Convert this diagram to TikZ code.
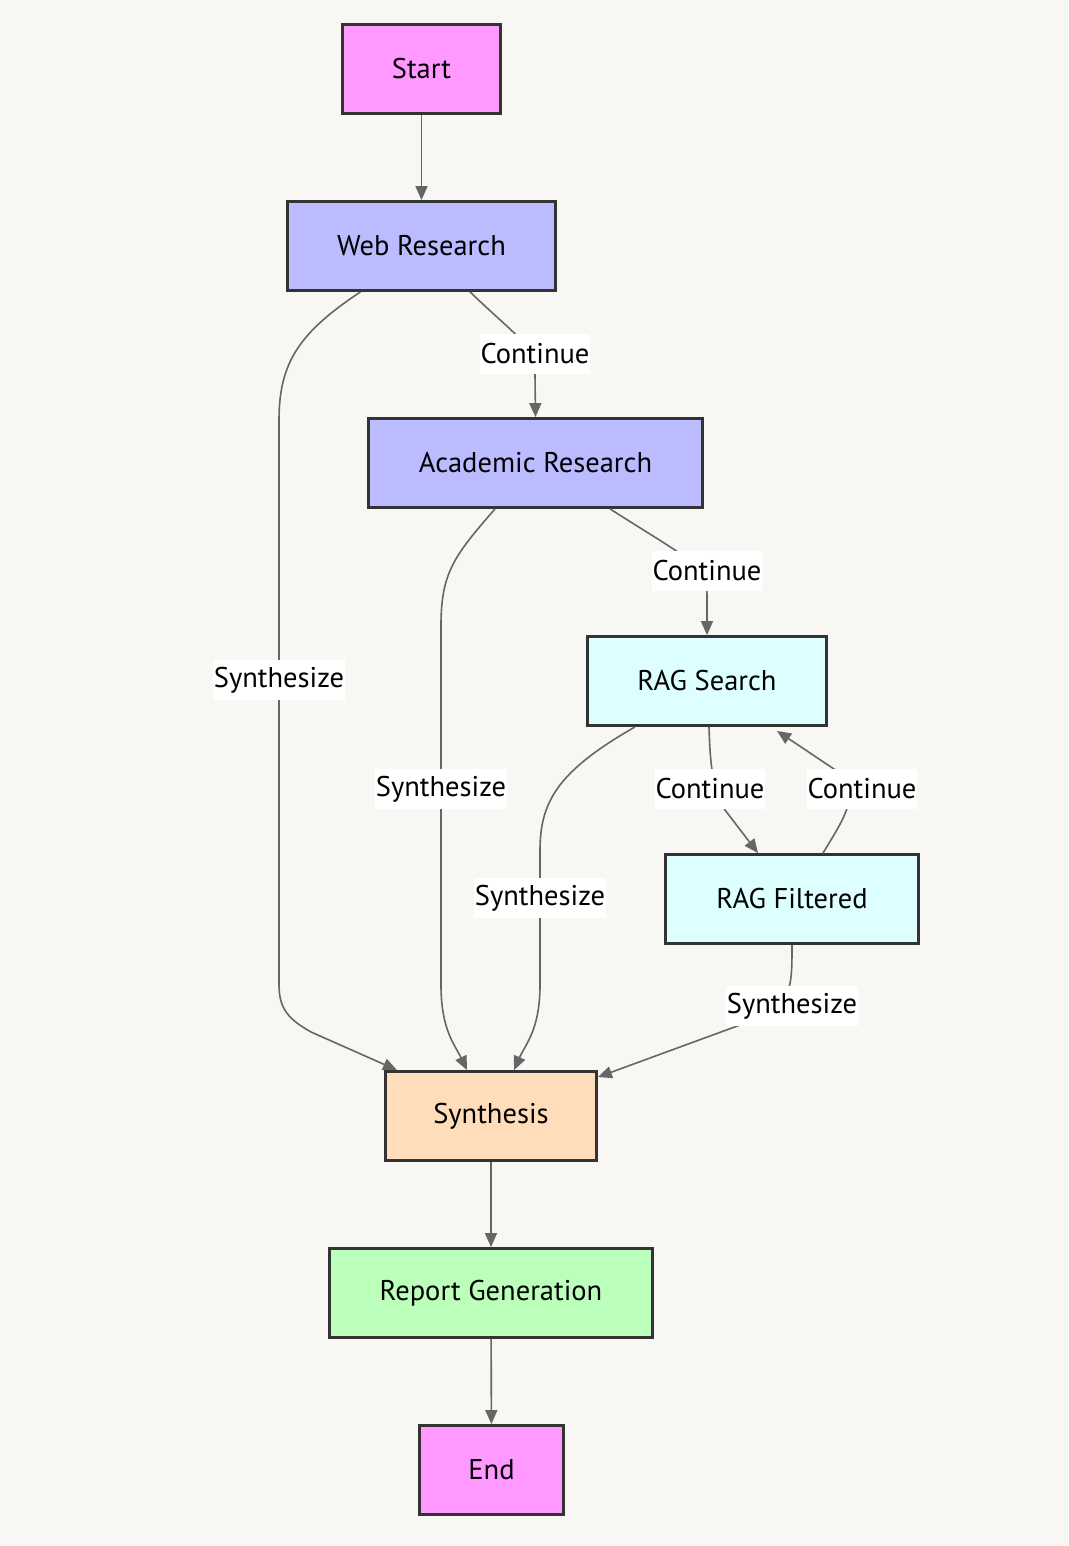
\documentclass[tikz,border=0pt]{standalone}
\usepackage{fontspec}
\setmainfont{PT Sans}
\usetikzlibrary{arrows.meta}
\definecolor{bg}{HTML}{F8F7F3}
\definecolor{boxline}{HTML}{333333}
\definecolor{edgec}{HTML}{666666}
\definecolor{cstart}{HTML}{FF99FF}
\definecolor{cres}{HTML}{BBBBFF}
\definecolor{crag}{HTML}{DDFFFF}
\definecolor{csyn}{HTML}{FFDDBB}
\definecolor{crep}{HTML}{BBFFBB}
\begin{document}
\begin{tikzpicture}[x=1pt,y=-1pt,
  box/.style={draw=boxline, line width=2.8pt, inner sep=0pt, minimum height=89pt, text=black, font=\fontsize{28.5}{32}\selectfont},
  lbl/.style={fill=white, inner xsep=1pt, inner ysep=0pt, minimum height=40pt, text=black, font=\fontsize{28.5}{32}\selectfont},
  edge/.style={draw=edgec, line width=1.6pt, -{Triangle[length=14pt,width=12pt]}}]
\fill[bg] (0,0) rectangle (1068,1546);
\useasboundingbox (0,0) rectangle (1068,1546);

\node[box, fill=cstart, minimum width=158pt] (start) at (421.5,69) {Start};
\node[box, fill=cres, minimum width=268pt] (web) at (421.5,246) {Web Research};
\node[box, fill=cres, minimum width=334pt] (acad) at (535.5,463) {Academic Research};
\node[box, fill=crag, minimum width=239pt] (rag) at (707,681) {RAG Search};
\node[box, fill=crag, minimum width=253pt] (ragf) at (792,899) {RAG Filtered};
\node[box, fill=csyn, minimum width=211pt] (syn) at (491,1116) {Synthesis};
\node[box, fill=crep, minimum width=323pt] (rep) at (491,1293) {Report Generation};
\node[box, fill=cstart, minimum width=144pt] (end) at (491.5,1470) {End};

% edges
\draw[edge] (start) -- (web);
\draw[edge] ([xshift=48.5pt]web.south) .. controls (520,340) and (535,345) .. (535,375) -- (acad.north);
\draw[edge] ([xshift=-61pt]web.south) .. controls (300,332) and (279,362) .. (279,420) -- (279,985) .. controls (279,1010) and (290,1020) .. (311,1032) -- ([xshift=-94pt]syn.north);
\draw[edge] ([xshift=74.5pt]acad.south) .. controls (690,560) and (707,565) .. (707,595) -- (rag.north);
\draw[edge] ([xshift=-40.5pt]acad.south) .. controls (455,555) and (441,572) .. (441,625) -- (441,985) .. controls (441,1030) and (455,1045) .. ([xshift=-24pt]syn.north);
\draw[edge] ([xshift=-72pt]rag.south) .. controls (560,770) and (540,800) .. (540,850) -- (540,985) .. controls (540,1030) and (525,1045) .. ([xshift=23pt]syn.north);
\draw[edge] ([xshift=2pt]rag.south) .. controls (710,760) and (712,790) .. (725,810) -- ([xshift=-34pt]ragf.north);
\draw[edge] ([xshift=31pt]ragf.north) .. controls (840,825) and (850,810) .. (850,790) .. controls (850,780) and (840,773) .. (834,769) -- ([xshift=70pt,yshift=-4pt]rag.south);
\draw[edge] (ragf.south) .. controls (792,975) and (792,990) .. (780,1005) -- (740,1025) -- ([yshift=-7pt]syn.north east);
\draw[edge] (syn) -- (rep);
\draw[edge] (rep) -- (end);

% labels
\node[lbl] (l1) at (535,354) {Continue};
\node[lbl] (l2) at (279,680) {Synthesize};
\node[lbl] (l3) at (707,571) {Continue};
\node[lbl] (l4) at (441,789) {Synthesize};
\node[lbl] (l5) at (540,898) {Synthesize};
\node[lbl] (l6) at (710,789) {Continue};
\node[lbl] (l7) at (862,789) {Continue};
\node[lbl] (l8) at (792,1006) {Synthesize};
\end{tikzpicture}
\end{document}
